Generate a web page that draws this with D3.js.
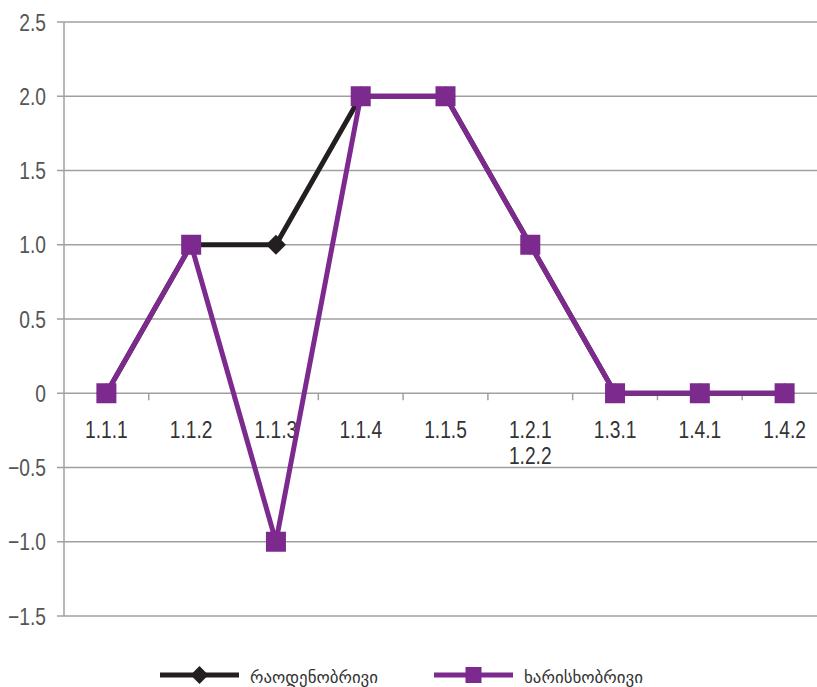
<!DOCTYPE html>
<html>
<head>
<meta charset="utf-8">
<script src="https://cdn.jsdelivr.net/npm/d3@7"></script>
<style>
  html, body { margin: 0; padding: 0; background: #fff; }
  svg { display: block; }
</style>
</head>
<body>
<svg id="chart" width="817" height="687"></svg>
<script>
// Indicator codes along the horizontal axis (multi-line codes split by "\n")
const categories = ["1.1.1", "1.1.2", "1.1.3", "1.1.4", "1.1.5", "1.2.1\n1.2.2", "1.3.1", "1.4.1", "1.4.2"];
// Quantitative series
const quantitative = [0, 1, 1, 2, 2, 1, 0, 0, 0];
// Qualitative series
const qualitative = [0, 1, -1, 2, 2, 1, 0, 0, 0];
const seriesNames = ["რაოდენობრივი", "ხარისხობრივი"];
const yTicks = [-1.5, -1.0, -0.5, 0, 0.5, 1.0, 1.5, 2.0, 2.5];

const svg = d3.select("#chart");
const plotLeft = 64, plotRight = 827, plotTop = 22, plotBottom = 616;

const x = d3.scaleBand().domain(categories).range([plotLeft, plotRight]);
const y = d3.scaleLinear().domain([-1.5, 2.5]).range([plotBottom, plotTop]);

const gridColor = "#a0a0a0";
const black = "#231f20";
const purple = "#7d2a8f";
const font = "'Liberation Sans', sans-serif";
const narrow = 0.8; // horizontal squeeze for a condensed look

// Horizontal gridlines with left tick stubs
svg.append("g").selectAll("line").data(yTicks).join("line")
  .attr("x1", plotLeft - 7).attr("x2", 817)
  .attr("y1", d => y(d)).attr("y2", d => y(d))
  .attr("stroke", gridColor).attr("stroke-width", 1.5);

// Vertical axis line
svg.append("line")
  .attr("x1", plotLeft).attr("x2", plotLeft).attr("y1", plotTop).attr("y2", plotBottom)
  .attr("stroke", gridColor).attr("stroke-width", 1.5);

// Category boundary ticks on the zero line
svg.append("g").selectAll("line").data(categories.slice(1)).join("line")
  .attr("x1", d => x(d)).attr("x2", d => x(d))
  .attr("y1", y(0)).attr("y2", y(0) + 7)
  .attr("stroke", gridColor).attr("stroke-width", 1.5);

// Y tick labels
const fmt = d => d === 0 ? "0" : (d < 0 ? "\u2212" + Math.abs(d).toFixed(1) : d.toFixed(1));
svg.append("g").selectAll("text").data(yTicks).join("text")
  .attr("transform", d => `translate(46,${y(d)}) scale(${narrow},1)`)
  .attr("dy", "0.36em")
  .attr("text-anchor", "end")
  .attr("font-family", font).attr("font-size", 24)
  .attr("fill", "#555")
  .text(fmt);

// X category labels just below the zero line
const xl = svg.append("g").selectAll("text").data(categories).join("text")
  .attr("transform", d => `translate(${x(d) + x.bandwidth() / 2},${y(0) + 45}) scale(${narrow},1)`)
  .attr("text-anchor", "middle")
  .attr("font-family", font).attr("font-size", 24)
  .attr("fill", "#333");
xl.each(function(d) {
  const t = d3.select(this);
  d.split("\n").forEach((part, i) => {
    t.append("tspan")
      .attr("x", 0)
      .attr("dy", i === 0 ? 0 : 26)
      .text(part);
  });
});

const cx = (d, i) => x(categories[i]) + x.bandwidth() / 2;
const line = d3.line().x((d, i) => cx(d, i)).y(d => y(d));

// Quantitative series: black line with diamond markers
svg.append("path").datum(quantitative)
  .attr("d", line).attr("fill", "none")
  .attr("stroke", black).attr("stroke-width", 5).attr("stroke-linejoin", "miter");
svg.append("g").selectAll("path").data(quantitative).join("path")
  .attr("d", d3.symbol(d3.symbolSquare, 200))
  .attr("transform", (d, i) => `translate(${cx(d, i)},${y(d)}) rotate(45)`)
  .attr("fill", black);

// Qualitative series: purple line with square markers
svg.append("path").datum(qualitative)
  .attr("d", line).attr("fill", "none")
  .attr("stroke", purple).attr("stroke-width", 5).attr("stroke-linejoin", "miter");
svg.append("g").selectAll("rect").data(qualitative).join("rect")
  .attr("x", (d, i) => cx(d, i) - 10).attr("y", d => y(d) - 10)
  .attr("width", 20).attr("height", 20)
  .attr("fill", purple);

// Legend
const legendY = 675;
const legend = [
  { name: seriesNames[0], color: black, x0: 160, x1: 239, mark: "diamond", tx: 250, tw: 128 },
  { name: seriesNames[1], color: purple, x0: 434, x1: 513, mark: "square", tx: 524, tw: 119 }
];
legend.forEach(l => {
  svg.append("line")
    .attr("x1", l.x0).attr("x2", l.x1).attr("y1", legendY).attr("y2", legendY)
    .attr("stroke", l.color).attr("stroke-width", 5);
  const mx = (l.x0 + l.x1) / 2;
  if (l.mark === "diamond") {
    svg.append("path")
      .attr("d", d3.symbol(d3.symbolSquare, 160))
      .attr("transform", `translate(${mx},${legendY}) rotate(45)`)
      .attr("fill", l.color);
  } else {
    svg.append("rect")
      .attr("x", mx - 8).attr("y", legendY - 8).attr("width", 16).attr("height", 16)
      .attr("fill", l.color);
  }
  svg.append("text")
    .attr("x", l.tx).attr("y", legendY + 8)
    .attr("font-family", "'DejaVu Sans', sans-serif").attr("font-size", 17)
    .attr("textLength", l.tw).attr("lengthAdjust", "spacingAndGlyphs")
    .attr("fill", "#333")
    .text(l.name);
});
</script>
</body>
</html>
